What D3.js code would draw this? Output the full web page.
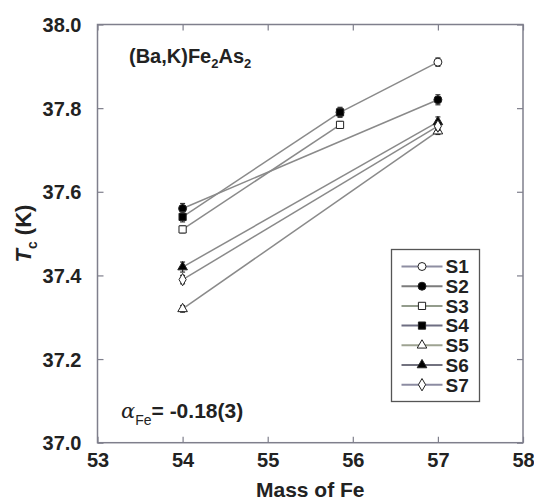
<!DOCTYPE html>
<html>
<head>
<meta charset="utf-8">
<script src="https://cdn.jsdelivr.net/npm/d3@7"></script>
<style>
  body { margin: 0; background: #fff; }
  svg text { font-family: "Liberation Sans", Arial, sans-serif; font-weight: bold; fill: #222; }
</style>
</head>
<body>
<script>
var width = 534,
  height = 504;

// data
var seriesNames = ["S1", "S2", "S3", "S4", "S5", "S6", "S7"];
var seriesMass = [
  [55.85, 57],
  [54, 57],
  [54, 55.85],
  [54, 55.85],
  [54, 57],
  [54, 57],
  [54, 57]
];
var seriesTc = [
  [37.79, 37.91],
  [37.56, 37.82],
  [37.51, 37.76],
  [37.54, 37.79],
  [37.32, 37.745],
  [37.42, 37.767],
  [37.39, 37.757]
];
var seriesErr = [
  [0.01, 0.01],
  [0.012, 0.012],
  [0.008, 0.008],
  [0.012, 0.012],
  [0.008, 0.008],
  [0.012, 0.012],
  [0.01, 0.01]
];
var xTicks = [53, 54, 55, 56, 57, 58];
var yTicks = [37.0, 37.2, 37.4, 37.6, 37.8, 38.0];

var symbols = [
  { type: d3.symbolCircle, size: 50, fill: "#fff" },
  { type: d3.symbolCircle, size: 50, fill: "#000" },
  { type: d3.symbolSquare, size: 52, fill: "#fff" },
  { type: d3.symbolSquare, size: 52, fill: "#000" },
  { type: d3.symbolTriangle, size: 40, fill: "#fff" },
  { type: d3.symbolTriangle, size: 40, fill: "#000" },
  { type: d3.symbolDiamond, size: 44, fill: "#fff" }
];
var lineColors = ["#8e8ea2", "#7c7c7c", "#939c8c", "#6e6e82", "#9ea392", "#72727f", "#8c8ca2"];

var margin = { left: 97.5, right: 534 - 523, top: 24.5, bottom: 504 - 442.7 };

var x = d3.scaleLinear()
  .domain([53, 58])
  .range([margin.left, width - margin.right]);

var y = d3.scaleLinear()
  .domain([37, 38])
  .range([height - margin.bottom, margin.top]);

var svg = d3.select("body").append("svg")
  .attr("width", width)
  .attr("height", height);

var frameColor = "#7f7f8c";

// axes with inward ticks
var fmtY = d3.format(".1f");

var axB = svg.append("g")
  .attr("transform", "translate(0," + y(37) + ")")
  .call(d3.axisBottom(x).tickValues(xTicks).tickSize(-6).tickPadding(10).tickFormat(d3.format("d")));

var axT = svg.append("g")
  .attr("transform", "translate(0," + y(38) + ")")
  .call(d3.axisTop(x).tickValues(xTicks).tickSize(-6).tickFormat(""));

var axL = svg.append("g")
  .attr("transform", "translate(" + x(53) + ",0)")
  .call(d3.axisLeft(y).tickValues(yTicks).tickSize(-6).tickPadding(16).tickFormat(fmtY));

var axR = svg.append("g")
  .attr("transform", "translate(" + x(58) + ",0)")
  .call(d3.axisRight(y).tickValues(yTicks).tickSize(-6).tickFormat(""));

[axB, axT, axL, axR].forEach(function(g) {
  g.select(".domain").remove();
  g.selectAll(".tick line").attr("stroke", frameColor).attr("stroke-width", 1.2);
  g.selectAll(".tick text")
    .attr("font-size", "20px")
    .attr("font-family", "Liberation Sans, Arial, sans-serif")
    .attr("font-weight", "bold")
    .attr("fill", "#222");
});
axB.selectAll(".tick text").attr("dy", "0.71em");
axL.selectAll(".tick text").attr("dy", "0.36em");

svg.append("rect")
  .attr("x", x(53))
  .attr("y", y(38))
  .attr("width", x(58) - x(53))
  .attr("height", y(37) - y(38))
  .attr("fill", "none")
  .attr("stroke", frameColor)
  .attr("stroke-width", 1.5);

// series
var plot = svg.append("g");

seriesNames.forEach(function(name, i) {
  var pts = seriesMass[i].map(function(m, j) {
    return { m: m, tc: seriesTc[i][j], err: seriesErr[i][j] };
  });

  var g = plot.append("g").attr("class", "series " + name);

  g.append("path")
    .datum(pts)
    .attr("fill", "none")
    .attr("stroke", "#8a8a8a")
    .attr("stroke-width", 1.5)
    .attr("d", d3.line()
      .x(function(d) { return x(d.m); })
      .y(function(d) { return y(d.tc); }));

  var eb = g.selectAll(".err")
    .data(pts)
    .enter().append("g")
      .attr("class", "err")
      .attr("stroke", "#333")
      .attr("stroke-width", 1.2);

  eb.append("line")
    .attr("x1", function(d) { return x(d.m); })
    .attr("x2", function(d) { return x(d.m); })
    .attr("y1", function(d) { return y(d.tc - d.err); })
    .attr("y2", function(d) { return y(d.tc + d.err); });
  eb.append("line")
    .attr("x1", function(d) { return x(d.m) - 2.5; })
    .attr("x2", function(d) { return x(d.m) + 2.5; })
    .attr("y1", function(d) { return y(d.tc + d.err); })
    .attr("y2", function(d) { return y(d.tc + d.err); });
  eb.append("line")
    .attr("x1", function(d) { return x(d.m) - 2.5; })
    .attr("x2", function(d) { return x(d.m) + 2.5; })
    .attr("y1", function(d) { return y(d.tc - d.err); })
    .attr("y2", function(d) { return y(d.tc - d.err); });

  g.selectAll(".pt")
    .data(pts)
    .enter().append("path")
      .attr("class", "pt")
      .attr("transform", function(d) { return "translate(" + x(d.m) + "," + y(d.tc) + ")"; })
      .attr("d", d3.symbol().type(symbols[i].type).size(symbols[i].size))
      .attr("fill", symbols[i].fill)
      .attr("stroke", "#222")
      .attr("stroke-width", 1);
});

// legend
var legend = svg.append("g")
  .attr("transform", "translate(391.5,249.5)");

legend.append("rect")
  .attr("width", 88)
  .attr("height", 152)
  .attr("fill", "#fff")
  .attr("stroke", "#555")
  .attr("stroke-width", 1.3);

var rows = legend.selectAll(".row")
  .data(seriesNames)
  .enter().append("g")
    .attr("class", "row")
    .attr("transform", function(d, i) { return "translate(0," + (17 + i * 19.7) + ")"; });

rows.append("line")
  .attr("x1", 10)
  .attr("x2", 51)
  .attr("stroke", function(d, i) { return lineColors[i]; })
  .attr("stroke-width", 2);

rows.append("path")
  .attr("transform", "translate(30.5,0)")
  .attr("d", function(d, i) { return d3.symbol().type(symbols[i].type).size(symbols[i].size)(); })
  .attr("fill", function(d, i) { return symbols[i].fill; })
  .attr("stroke", "#222")
  .attr("stroke-width", 1);

rows.append("text")
  .attr("x", 54)
  .attr("dy", "0.36em")
  .attr("font-size", "19px")
  .text(function(d) { return d; });

// annotations
var compound = svg.append("text")
  .attr("x", 129)
  .attr("y", 62.5)
  .attr("font-size", "20px");
compound.append("tspan").text("(Ba,K)Fe");
compound.append("tspan").attr("font-size", "13px").attr("dy", 5).text("2");
compound.append("tspan").attr("dy", -5).text("As");
compound.append("tspan").attr("font-size", "13px").attr("dy", 5).text("2");

var alpha = svg.append("text")
  .attr("x", 121)
  .attr("y", 418)
  .attr("font-size", "21px");
alpha.append("tspan").attr("font-style", "italic").attr("font-weight", "normal")
  .attr("font-family", "DejaVu Serif, serif").text("\u03b1");
alpha.append("tspan").attr("font-size", "14px").attr("font-weight", "normal").attr("dy", 7).text("Fe");
alpha.append("tspan").attr("dy", -7).text("= -0.18(3)");

// axis titles
svg.append("text")
  .attr("x", (x(53) + x(58)) / 2)
  .attr("y", 497)
  .attr("text-anchor", "middle")
  .attr("font-size", "21px")
  .text("Mass of Fe");

var yTitle = svg.append("text")
  .attr("transform", "translate(31," + ((y(37) + y(38)) / 2) + ") rotate(-90)")
  .attr("text-anchor", "middle")
  .attr("font-size", "22px");
yTitle.append("tspan").attr("font-style", "italic").text("T");
yTitle.append("tspan").attr("font-size", "14px").attr("dy", 6).text("c");
yTitle.append("tspan").attr("dy", -6).text(" (K)");
</script>
</body>
</html>
